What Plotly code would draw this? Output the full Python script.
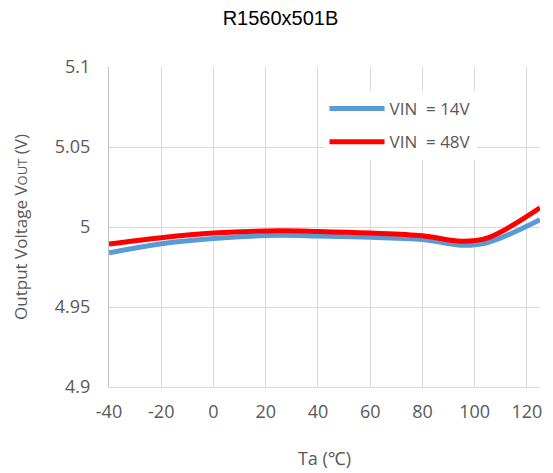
import plotly.graph_objects as go

# temperature (deg C) and output voltage readings
ta = [-40, -20, 0, 25, 40, 60, 80, 95, 105, 125]
vout_14v = [4.9838, 4.9895, 4.9928, 4.9948, 4.9944, 4.9936, 4.9922, 4.9886, 4.9903, 5.0045]
vout_48v = [4.9893, 4.9933, 4.9962, 4.9976, 4.9972, 4.9962, 4.9945, 4.9911, 4.9932, 5.0120]
x_ticks = [-40, -20, 0, 20, 40, 60, 80, 100, 120]
x_labels = ['-40', '-20', '0', '20', '40', '60', '80', '100', '120']

grey = '#595959'
fnt = 'Open Sans, Noto Sans, sans-serif'

fig = go.Figure()
fig.add_trace(go.Scatter(x=ta, y=vout_14v, mode='lines', name='VIN  = 14V', legendgroup='a',
                         line=dict(color='#5B9BD5', width=5, shape='spline', smoothing=1.0)))
fig.add_trace(go.Scatter(x=ta, y=vout_48v, mode='lines', name='VIN  = 48V', legendgroup='b',
                         line=dict(color='#FF0000', width=5, shape='spline', smoothing=1.0)))

# page body has an 8px margin, so the figure is sized to fit inside the window
fig.update_layout(
    width=545, height=465,
    plot_bgcolor='white', paper_bgcolor='white',
    margin=dict(l=101, r=13, t=59, b=86),
    title=dict(text='R1560x501B', x=0.5, xanchor='center', y=1 - 10 / 465, yanchor='middle',
               font=dict(family='Liberation Sans, Arial', size=20, color='black')),
    font=dict(family=fnt, color=grey),
    legend=dict(x=0.5, y=0.925, xanchor='left', yanchor='top', bgcolor='white',
                font=dict(size=17, color=grey), tracegroupgap=8, itemwidth=55),
)
fig.update_xaxes(range=[-40, 125], tickvals=x_ticks, ticktext=x_labels,
                 showgrid=True, gridcolor='#d9d9d9', automargin=False,
                 showline=True, linecolor='#d9d9d9', zeroline=False, ticks='',
                 tickfont=dict(size=18, color=grey), ticklabelstandoff=8,
                 title=dict(text='Ta (℃)', font=dict(size=18, color=grey), standoff=30))
fig.update_yaxes(range=[4.9, 5.1], dtick=0.05, showgrid=True, gridcolor='#d9d9d9',
                 showline=True, linecolor='#bfbfbf', zeroline=False, ticks='', automargin=False,
                 tickfont=dict(size=18, color=grey), ticklabelstandoff=14,
                 title=dict(text="Output Voltage V<span style='font-size:13px'>OUT</span> (V)",
                            font=dict(size=17, color=grey), standoff=22))

fig.write_html("out.html")
